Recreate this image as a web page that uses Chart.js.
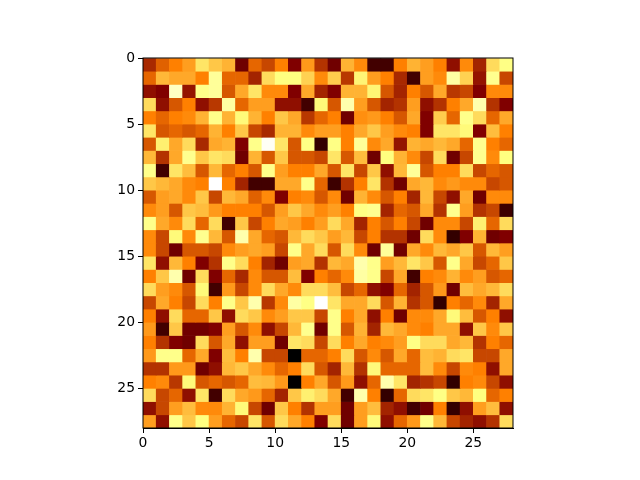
<!DOCTYPE html>
<html>
<head>
<meta charset="utf-8">
<style>
  html, body { margin: 0; padding: 0; background: #fff; }
  #box { width: 640px; height: 480px; }
</style>
<script src="https://cdn.jsdelivr.net/npm/chart.js@4/dist/chart.umd.min.js"></script>
</head>
<body>
<div id="box"><canvas id="heat"></canvas></div>
<script>
"use strict";

// --- Data --------------------------------------------------------------------

const tickValues = [0, 5, 10, 15, 20, 25];
const gridSize = 28;

const cellRows = [
  [.33,.44,.50,.56,.70,.64,.60,.22,.45,.39,.50,.25,.55,.35,.22,.60,.52,.13,.13,.50,.60,.56,.50,.28,.52,.32,.68,.76],
  [.45,.61,.58,.58,.50,.80,.45,.45,.32,.68,.75,.75,.66,.52,.65,.36,.73,.56,.50,.33,.13,.56,.52,.82,.66,.29,.78,.39],
  [.28,.25,.88,.29,.77,.80,.42,.58,.70,.52,.52,.25,.58,.32,.25,.60,.60,.73,.42,.32,.50,.42,.58,.36,.39,.25,.52,.52],
  [.68,.28,.42,.50,.28,.36,.82,.45,.56,.56,.28,.28,.13,.74,.42,.84,.56,.42,.32,.35,.56,.28,.35,.50,.58,.84,.35,.25],
  [.50,.45,.50,.52,.60,.77,.60,.74,.60,.50,.64,.58,.36,.45,.50,.22,.53,.55,.50,.42,.58,.25,.65,.45,.77,.68,.45,.58],
  [.70,.42,.45,.42,.45,.60,.50,.64,.39,.33,.60,.60,.52,.56,.56,.50,.58,.64,.56,.52,.50,.25,.70,.70,.74,.25,.62,.50],
  [.42,.72,.58,.68,.33,.58,.60,.25,.77,.98,.70,.42,.76,.10,.76,.50,.80,.52,.58,.29,.60,.58,.61,.58,.45,.78,.50,.45],
  [.61,.35,.58,.78,.64,.70,.68,.22,.60,.42,.64,.42,.42,.39,.70,.42,.62,.22,.75,.60,.52,.39,.68,.22,.39,.78,.52,.75],
  [.77,.13,.70,.62,.42,.61,.45,.50,.42,.77,.56,.50,.50,.58,.42,.70,.39,.64,.28,.61,.80,.42,.50,.50,.68,.39,.45,.42],
  [.64,.61,.58,.52,.50,1.0,.50,.32,.13,.13,.58,.58,.77,.45,.12,.35,.50,.70,.35,.22,.58,.61,.52,.55,.52,.52,.39,.42],
  [.42,.56,.58,.52,.64,.39,.61,.58,.44,.52,.25,.50,.52,.42,.52,.22,.60,.52,.42,.50,.32,.61,.39,.28,.58,.22,.52,.52],
  [.52,.56,.42,.64,.62,.55,.50,.50,.50,.42,.56,.64,.58,.52,.56,.50,.76,.78,.32,.45,.42,.58,.35,.78,.56,.35,.39,.12],
  [.77,.58,.52,.68,.45,.68,.13,.64,.39,.50,.58,.56,.50,.56,.68,.58,.32,.50,.42,.50,.39,.22,.52,.52,.39,.72,.45,.68],
  [.52,.39,.74,.52,.78,.61,.42,.84,.58,.45,.42,.61,.68,.64,.56,.61,.39,.50,.35,.35,.22,.68,.52,.10,.25,.60,.22,.25],
  [.52,.39,.22,.42,.42,.39,.52,.56,.58,.56,.39,.77,.58,.68,.42,.68,.52,.22,.80,.22,.58,.52,.61,.58,.64,.42,.61,.56],
  [.70,.28,.61,.50,.25,.35,.77,.68,.50,.32,.22,.56,.58,.35,.61,.58,.84,.77,.56,.61,.70,.64,.42,.77,.58,.39,.45,.64],
  [.50,.64,.84,.22,.68,.25,.45,.33,.52,.42,.42,.62,.25,.50,.45,.52,.82,.77,.39,.58,.13,.50,.52,.60,.52,.56,.42,.45],
  [.68,.56,.52,.42,.74,.13,.55,.39,.52,.68,.58,.52,.68,.68,.62,.39,.45,.28,.25,.45,.32,.42,.55,.22,.62,.58,.61,.68],
  [.39,.58,.50,.39,.68,.50,.77,.64,.84,.36,.52,.82,.76,1.0,.70,.58,.58,.68,.42,.60,.35,.42,.10,.50,.45,.52,.32,.58],
  [.50,.28,.68,.45,.45,.64,.28,.68,.64,.52,.56,.64,.64,.39,.77,.50,.58,.28,.50,.22,.52,.52,.58,.74,.62,.42,.50,.28],
  [.55,.13,.64,.22,.22,.25,.56,.42,.52,.28,.39,.61,.78,.22,.77,.42,.60,.32,.61,.58,.52,.50,.58,.58,.28,.64,.52,.64],
  [.50,.35,.25,.22,.68,.42,.58,.28,.56,.56,.22,.70,.68,.39,.68,.50,.58,.50,.52,.56,.76,.68,.68,.58,.61,.35,.50,.45],
  [.55,.77,.77,.45,.58,.25,.62,.50,.84,.39,.39,.00,.45,.45,.50,.68,.42,.52,.42,.58,.45,.62,.60,.68,.70,.39,.39,.58],
  [.35,.35,.55,.55,.22,.28,.61,.64,.58,.52,.45,.50,.68,.42,.32,.61,.35,.74,.45,.45,.45,.62,.52,.39,.52,.50,.28,.58],
  [.50,.52,.36,.74,.42,.45,.42,.45,.62,.61,.55,.00,.50,.58,.42,.55,.28,.45,.84,.70,.32,.35,.39,.10,.50,.52,.39,.28],
  [.68,.39,.45,.28,.70,.13,.68,.58,.55,.45,.32,.64,.72,.68,.58,.13,.84,.50,.10,.45,.68,.70,.76,.64,.61,.75,.45,.50],
  [.28,.39,.56,.62,.52,.52,.60,.74,.39,.22,.64,.50,.35,.56,.56,.22,.56,.62,.32,.28,.13,.22,.50,.10,.28,.56,.62,.28],
  [.56,.28,.77,.64,.75,.56,.45,.39,.70,.42,.68,.58,.50,.25,.68,.22,.56,.74,.28,.45,.55,.77,.61,.39,.32,.28,.35,.68],
];

// --- Renk haritasi (afmhot) --------------------------------------------------

const clip = (v) => Math.max(0, Math.min(1, v));

function afmhot(v) {
  const r = Math.round(clip(2 * v) * 255);
  const g = Math.round(clip(2 * v - 0.5) * 255);
  const b = Math.round(clip(2 * v - 1) * 255);
  return `rgb(${r},${g},${b})`;
}

// --- Grafik ------------------------------------------------------------------

// one floating-bar dataset per image row
const datasets = cellRows.map((row, r) => ({
  data: row.map((v, c) => ({ x: c + 0.5, y: [r, r + 1], v })),
  backgroundColor: row.map(afmhot),
  borderWidth: 0,
  barPercentage: 1,
  categoryPercentage: 1,
}));

const framePlugin = {
  id: "frame",
  afterDraw(chart) {
    const { ctx, chartArea: a } = chart;
    ctx.save();
    ctx.strokeStyle = "#000";
    ctx.lineWidth = 1;
    ctx.strokeRect(a.left, a.top, a.right - a.left, a.bottom - a.top);
    ctx.restore();
  },
};

const setTicks = (scale) => {
  scale.ticks = tickValues.map((value) => ({ value }));
};

const tickStyle = {
  color: "#000",
  font: { family: "'DejaVu Sans'", size: 13.9 },
  maxRotation: 0,
  autoSkip: false,
  callback: (v) => String(v),
};

new Chart(document.getElementById("heat"), {
  type: "bar",
  data: { datasets },
  plugins: [framePlugin],
  options: {
    responsive: true,
    maintainAspectRatio: false,
    animation: false,
    layout: { padding: { left: 103, right: 127, top: 58, bottom: 22 } },
    plugins: { legend: { display: false }, tooltip: { enabled: false } },
    scales: {
      x: {
        type: "linear",
        position: "bottom",
        stacked: true,
        offset: false,
        min: 0,
        max: gridSize,
        afterBuildTicks: setTicks,
        afterFit: (s) => { s.height = 30; },
        ticks: { ...tickStyle, padding: 2 },
        grid: { offset: false, drawOnChartArea: false, drawTicks: true, tickLength: 5, tickColor: "#000" },
        border: { display: true, color: "#000" },
      },
      y: {
        type: "linear",
        reverse: true,
        min: 0,
        max: gridSize,
        afterBuildTicks: setTicks,
        afterFit: (s) => { s.width = 40; },
        ticks: { ...tickStyle, padding: 3 },
        grid: { offset: false, drawOnChartArea: false, drawTicks: true, tickLength: 5, tickColor: "#000" },
        border: { display: true, color: "#000" },
      },
    },
  },
});
</script>
</body>
</html>
